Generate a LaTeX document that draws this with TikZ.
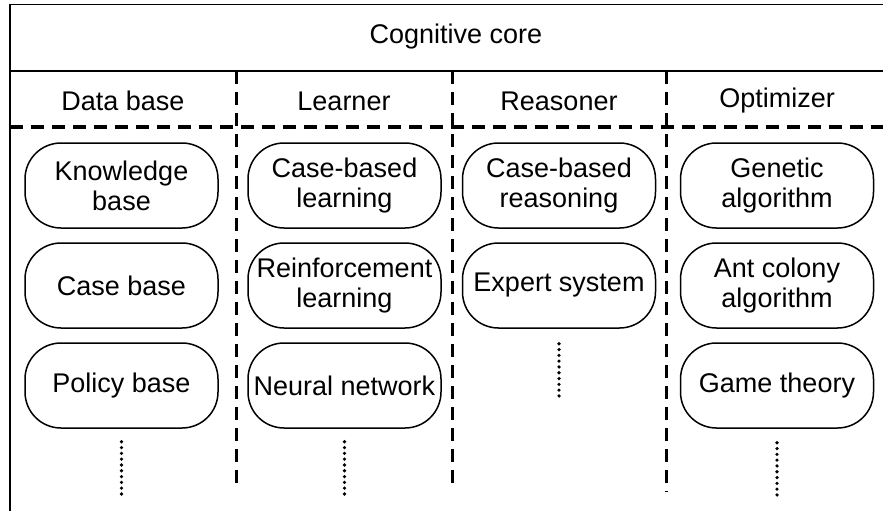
\documentclass[tikz,border=0pt]{standalone}
\usepackage{fontspec}
\setmainfont{Liberation Sans}
\begin{document}
\begin{tikzpicture}[x=1pt,y=-1pt,
  every node/.style={font=\fontsize{27}{30}\selectfont},
  item/.style={draw, line width=1.5pt, rounded corners=36pt,
    minimum width=193pt, minimum height=85pt, align=center, inner sep=0pt},
  head/.style={inner sep=0pt},
  frame/.style={line width=1.7pt},
  divider/.style={line width=3.2pt, dash pattern=on 13pt off 8pt},
  more/.style={line width=3.6pt, line cap=round, dash pattern=on 0pt off 5.8pt}]
\useasboundingbox (0,0) rectangle (883,511);

% outer frame and header rows
\draw[frame] (883,4.5) -- (10,4.5) -- (10,511);
\draw[frame] (10,71) -- (883,71);
\draw[divider] (10,127) -- (883,127);

% column separators
\draw[divider] (236.5,71) -- (236.5,490);
\draw[divider] (452.5,71) -- (452.5,490);
\draw[divider] (666.5,71) -- (666.5,492);

% titles
\node[head] (core) at (456,37) {Cognitive core};
\node[head] (hdb) at (123,101) {Data base};
\node[head] (hle) at (344,101) {Learner};
\node[head] (hre) at (559,101) {Reasoner};
\node[head] (hop) at (777,101) {Optimizer};

% Data base
\node[item] (kb) at (121.5,185.5) {Knowledge\\base};
\node[item] (cb) at (121.5,285.5) {Case base};
\node[item] (pb) at (121.5,385.5) {Policy base};

% Learner
\node[item] (cbl) at (344.5,185.5) {Case-based\\learning};
\node[item] (rl)  at (344.5,285.5) {Reinforcement\\learning};
\node[item] (nn)  at (344.5,385.5) {Neural network};

% Reasoner
\node[item] (cbr) at (559,185.5) {Case-based\\reasoning};
\node[item] (es)  at (559,285.5) {Expert system};

% Optimizer
\node[item] (ga)  at (777,185.5) {Genetic\\algorithm};
\node[item] (aca) at (777,285.5) {Ant colony\\algorithm};
\node[item] (gt)  at (777,385.5) {Game theory};

% continuation marks
\coordinate (pbend) at ([yshift=-70pt]pb.south);
\coordinate (nnend) at ([yshift=-70pt]nn.south);
\coordinate (esend) at ([yshift=-72pt]es.south);
\coordinate (gtend) at ([yshift=-71pt]gt.south);
\draw[more] ([yshift=-13pt]pb.south) -- (pbend);
\draw[more] ([yshift=-13pt]nn.south) -- (nnend);
\draw[more] ([yshift=-15pt]es.south) -- (esend);
\draw[more] ([yshift=-14pt]gt.south) -- (gtend);
\end{tikzpicture}
\end{document}
